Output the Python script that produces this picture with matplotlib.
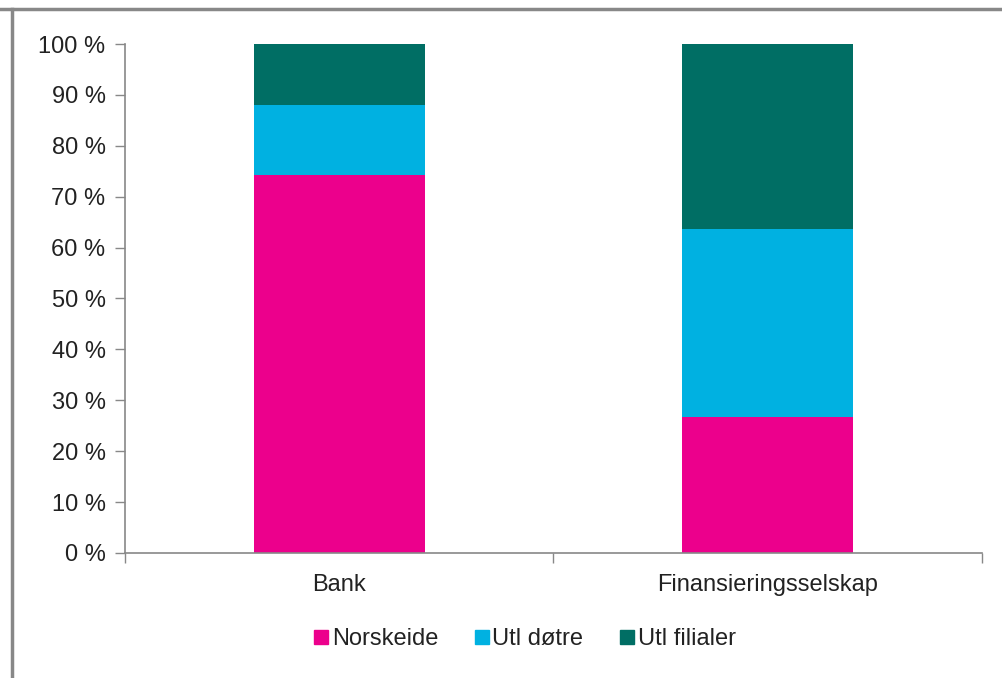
import matplotlib
matplotlib.use("Agg")
import matplotlib.pyplot as plt
from matplotlib.lines import Line2D
from matplotlib.ticker import FuncFormatter

plt.rcParams["font.family"] = ["Liberation Sans", "DejaVu Sans"]

categories = ["Bank", "Finansieringsselskap"]
series_names = ["Norskeide", "Utl døtre", "Utl filialer"]
norskeide = [74.2, 26.7]
utl_dotre = [13.8, 36.9]
utl_filialer = [12.0, 36.4]
colors = ["#EC008C", "#00B1E1", "#006E64"]

fig = plt.figure(figsize=(10.02, 6.78), dpi=100)
ax = fig.add_axes([0.1248, 0.1844, 0.855, 0.7507])

x = list(range(len(categories)))
bottom = [0.0] * len(categories)
for name, vals, col in zip(series_names, [norskeide, utl_dotre, utl_filialer], colors):
    ax.bar(x, vals, width=0.4, bottom=bottom, color=col, label=name,
           edgecolor="none", zorder=2)
    bottom = [b + v for b, v in zip(bottom, vals)]

ax.set_xlim(-0.5, 1.5)
ax.set_ylim(0, 100)
ax.set_yticks(range(0, 101, 10))
ax.yaxis.set_major_formatter(FuncFormatter(lambda v, p: f"{int(v)} %"))

# category labels centred under bars, ticks at category boundaries
ax.set_xticks([-0.5, 0.5, 1.5])
ax.set_xticklabels([])
ax.set_xticks(x, minor=True)
ax.set_xticklabels(categories, minor=True)
ax.tick_params(axis="x", which="minor", length=0, pad=15, labelsize=17,
               labelcolor="#222222")
ax.tick_params(axis="x", which="major", length=7, color="#888888", width=1)
ax.tick_params(axis="y", length=7, color="#888888", width=1, labelsize=17,
               labelcolor="#222222", pad=7)

for side in ["top", "right"]:
    ax.spines[side].set_visible(False)
for side in ["left", "bottom"]:
    ax.spines[side].set_color("#888888")
    ax.spines[side].set_linewidth(1.2)

handles = [Line2D([], [], marker="s", linestyle="none", markersize=10,
                  markerfacecolor=c, markeredgecolor=c) for c in colors]
fig.legend(handles, series_names, loc="center", bbox_to_anchor=(0.522, 0.057),
           ncol=3, frameon=False, fontsize=17, handletextpad=0.0,
           columnspacing=1.4, handlelength=0.9, labelcolor="#222222")

# outer frame lines
fig.add_artist(Line2D([0, 1], [1 - 9 / 678, 1 - 9 / 678], transform=fig.transFigure,
                      color="#888888", linewidth=2.5))
fig.add_artist(Line2D([12 / 1002, 12 / 1002], [0, 1 - 9 / 678], transform=fig.transFigure,
                      color="#888888", linewidth=2.5))

fig.savefig("out.png", dpi=100, facecolor="white")
